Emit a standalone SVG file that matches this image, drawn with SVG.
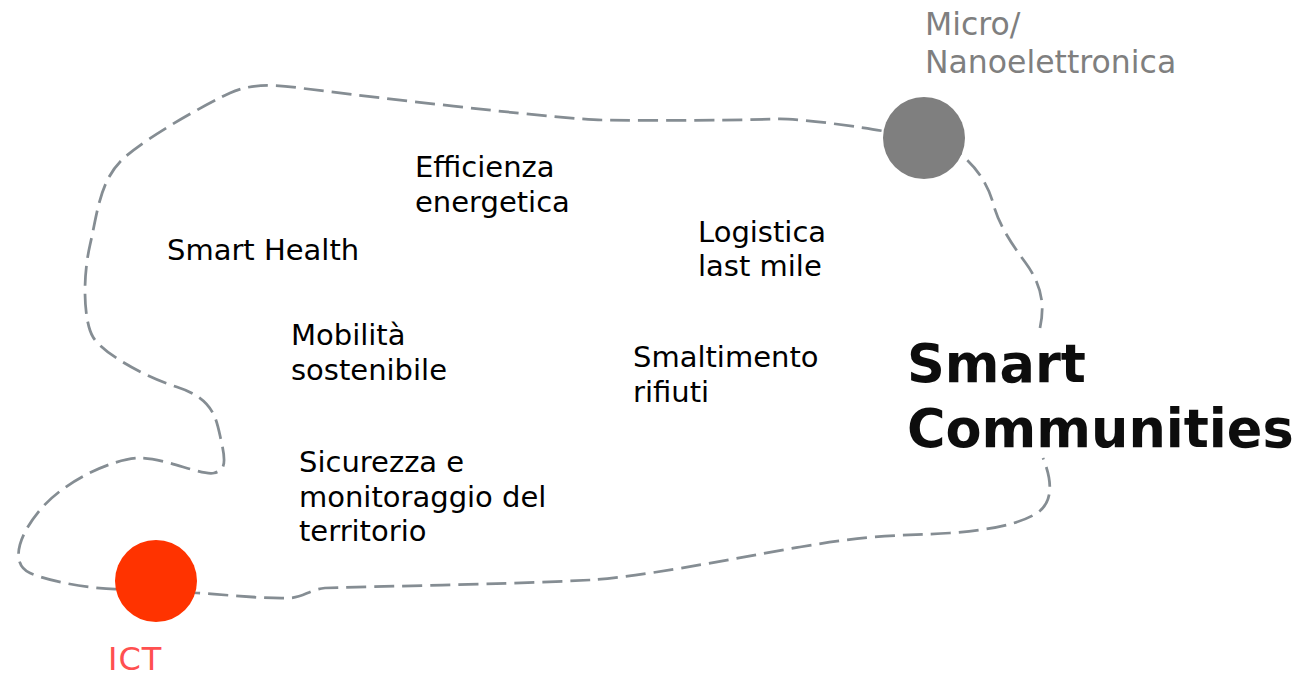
<svg xmlns="http://www.w3.org/2000/svg" width="1311" height="676" viewBox="0 0 1311 676">
<style>
.t{font-family:"DejaVu Sans","Verdana",sans-serif;font-size:29px;fill:#000}
.lbl{font-family:"DejaVu Sans","Verdana",sans-serif;font-size:31.5px}
.big{font-family:"DejaVu Sans","Verdana",sans-serif;font-size:52.5px;font-weight:bold;fill:#0d0d0d}
.dash{fill:none;stroke:#858d93;stroke-width:2.75;stroke-dasharray:20 8}
</style>
<rect width="1311" height="676" fill="#fff"/>
<g id="connectors">
<path class="dash" d="M1040,328 C1045,305 1042,285 1025,262 S998,222 993,203 S975,165 960,154 S900,134 883,131 S800,118 776,119 S650,121 602,120 S330,92 300,88 S250,84 230,93 S150,135 125,157 S98,210 90,245 S84,322 93,337 S140,375 177,387 S216,418 221,440 S226,470 214,473 S165,458 140,458 S65,480 40,510 S12,565 30,573 S90,589 115,589 L197,593 C230,595 265,599 290,598 C305,597 308,590 325,588 C400,586 540,583 590,580 S720,561 800,547 S910,536 950,533 S1020,524 1037,513 S1052,480 1043,458"/>
</g>
<g id="node-micro">
<circle cx="924" cy="138" r="41" fill="#7f7f7f"/>
<text class="lbl" fill="#7f7f7f"><tspan x="925" y="35">Micro/</tspan><tspan x="925" y="73">Nanoelettronica</tspan></text>
</g>
<g id="node-ict">
<circle cx="156" cy="581" r="41" fill="#ff3300"/>
<text class="lbl" x="108" y="670" fill="#ff5050" style="font-size:32px;letter-spacing:1px">ICT</text>
</g>
<g id="node-smart-communities">
<text class="big"><tspan x="907" y="382">Smart</tspan><tspan x="907" y="447">Communities</tspan></text>
</g>
<g id="node-efficienza">
<text class="t"><tspan x="415" y="177">Efficienza</tspan><tspan x="415" y="212">energetica</tspan></text>
</g>
<g id="node-smart-health">
<text class="t" x="167" y="260">Smart Health</text>
</g>
<g id="node-logistica">
<text class="t"><tspan x="698" y="242">Logistica</tspan><tspan x="698" y="276">last mile</tspan></text>
</g>
<g id="node-mobilita">
<text class="t"><tspan x="291" y="345">Mobilità</tspan><tspan x="291" y="380">sostenibile</tspan></text>
</g>
<g id="node-smaltimento">
<text class="t"><tspan x="633" y="367">Smaltimento</tspan><tspan x="633" y="402">rifiuti</tspan></text>
</g>
<g id="node-sicurezza">
<text class="t"><tspan x="299" y="472">Sicurezza e</tspan><tspan x="299" y="507">monitoraggio del</tspan><tspan x="299" y="541">territorio</tspan></text>
</g>
</svg>
